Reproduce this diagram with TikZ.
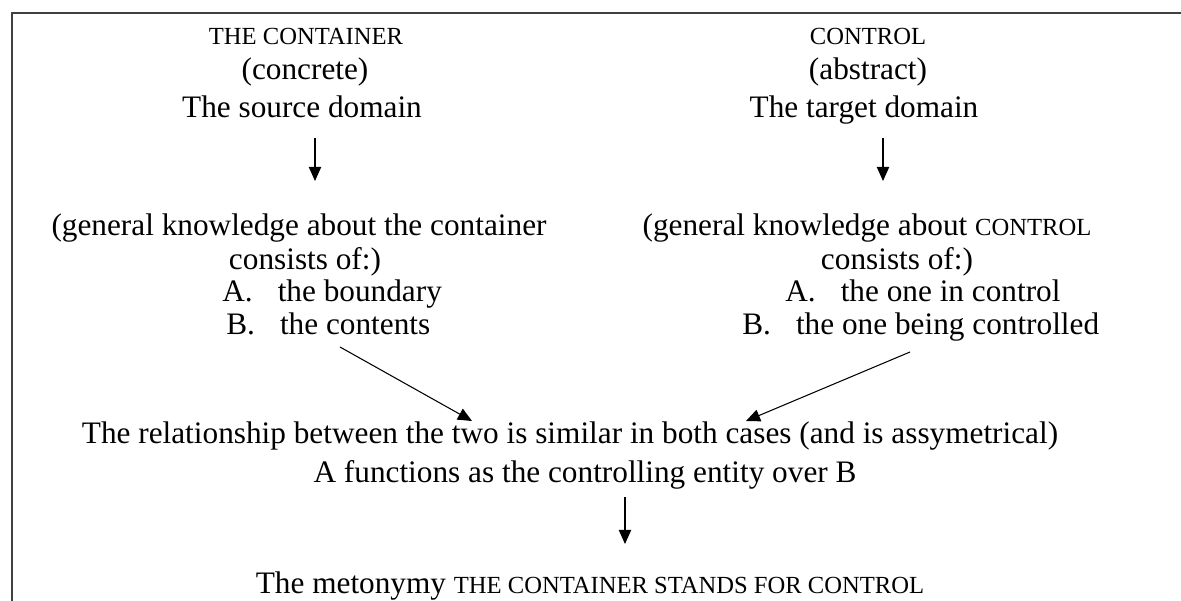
\documentclass[tikz,border=0pt]{standalone}
\usepackage{fontspec}
\setmainfont{Liberation Serif}
\usetikzlibrary{arrows.meta}

\tikzset{
  txt/.style={inner sep=0pt, anchor=base, font=\fontsize{17.8}{20}\selectfont},
  item/.style={txt, anchor=base west},
  arr/.style={line width=0.6pt, -{Triangle[width=7pt,length=8pt]}},
  frame/.style={line width=1.3pt, black!75}
}
\newcommand{\capsm}[1]{{\fontsize{14}{16}\selectfont #1}}

\begin{document}
\begin{tikzpicture}[x=0.02cm,y=-0.02cm]
\useasboundingbox (0,0) rectangle (1181,601);
\draw[frame] (12,601) -- (12,13) -- (1181,13);
% source domain side
\node[txt] (lhead) at (306,45) {\capsm{THE CONTAINER}};
\node[txt] (lkind) at (305,80) {(concrete)};
\node[txt] (lsrc) at (302,118) {The source domain};
\node[txt] (lgen) at (299,236) {(general knowledge about the container};
\node[txt] (lcons) at (305,270) {consists of:)};
\node[item] (lA) at (222,302) {A.\hspace{0.8em}the boundary};
\node[item] (lB) at (226,335) {B.\hspace{0.8em}the contents};
% target domain side
\node[txt] (rhead) at (868,45) {\capsm{CONTROL}};
\node[txt] (rkind) at (868,80) {(abstract)};
\node[txt] (rtgt) at (864,118) {The target domain};
\node[txt] (rgen) at (867,236) {(general knowledge about \capsm{CONTROL}};
\node[txt] (rcons) at (897,270) {consists of:)};
\node[item] (rA) at (785,302) {A.\hspace{0.8em}the one in control};
\node[item] (rB) at (742,335) {B.\hspace{0.8em}the one being controlled};
% shared part
\node[txt] (rel) at (570,443) {The relationship between the two is similar in both cases (and is assymetrical)};
\node[txt] (func) at (585,482) {A functions as the controlling entity over B};
\node[txt] (meto) at (590,593) {The metonymy \capsm{THE CONTAINER STANDS FOR CONTROL}};
% arrow ends
\coordinate (ltop) at (315,138);
\coordinate (lbot) at (315,181);
\coordinate (rtop) at (883,138);
\coordinate (rbot) at (883,181);
\coordinate (lfrom) at (340,347);
\coordinate (lto) at (472,421);
\coordinate (rfrom) at (910,352);
\coordinate (rto) at (746,421);
\coordinate (mtop) at (625,497);
\coordinate (mbot) at (625,544);
\draw[arr] (ltop) -- (lbot);
\draw[arr] (rtop) -- (rbot);
\draw[arr] (lfrom) -- (lto);
\draw[arr] (rfrom) -- (rto);
\draw[arr] (mtop) -- (mbot);
\end{tikzpicture}
\end{document}
